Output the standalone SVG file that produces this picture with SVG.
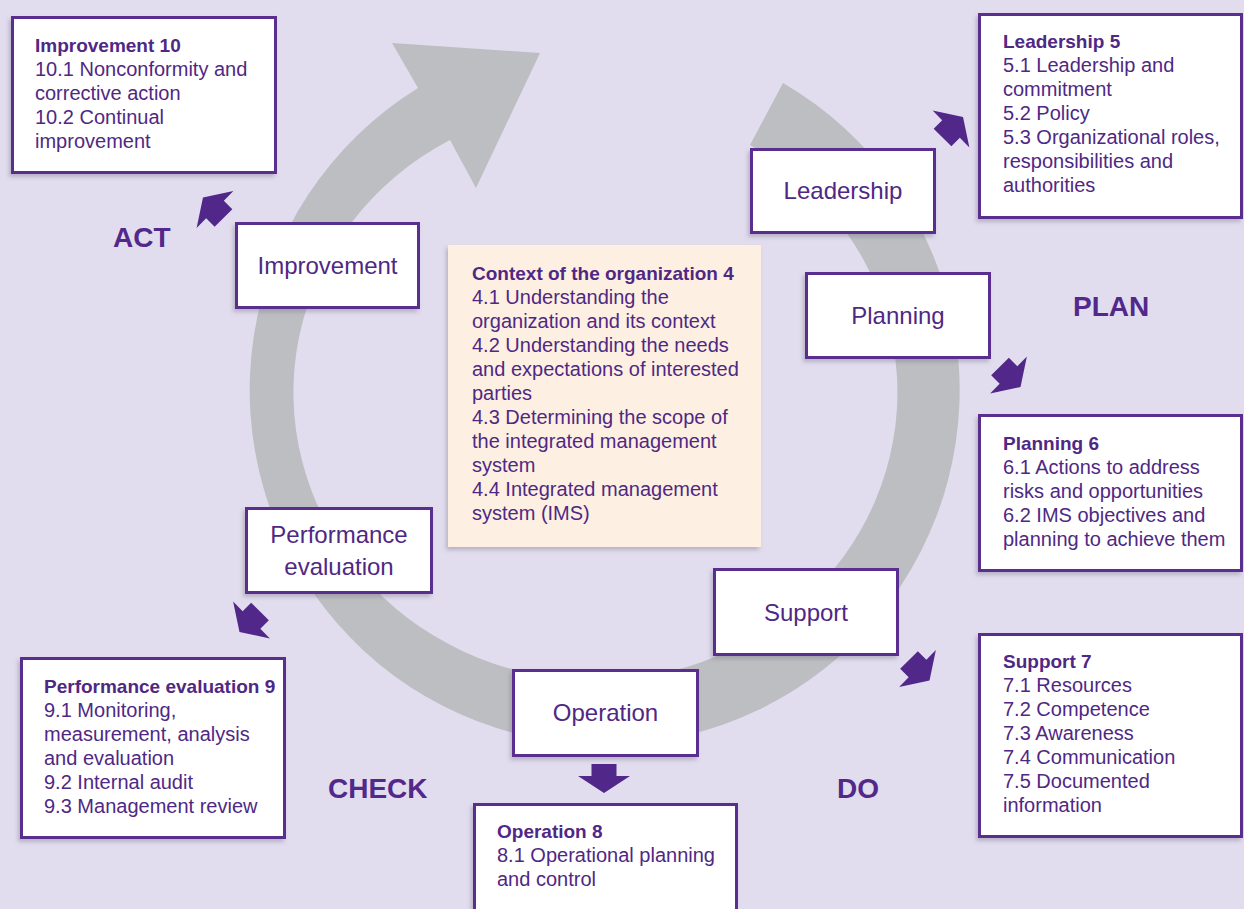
<svg xmlns="http://www.w3.org/2000/svg" xmlns:xlink="http://www.w3.org/1999/xlink" width="1244" height="909" viewBox="0 0 1244 909">
<defs>
<filter id="sh" x="-10%" y="-10%" width="120%" height="125%">
<feDropShadow dx="-2" dy="3" stdDeviation="2.2" flood-color="#6b6478" flood-opacity="0.35"/>
</filter>
<path id="blk" d="M17,0 L0,-26 L0,-12.5 L-12,-12.5 L-12,12.5 L0,12.5 L0,26 Z"/>
<style>
.t{font-family:"Liberation Sans",Arial,sans-serif;font-size:20px;fill:#4f2884}
.b{font-weight:bold;font-size:19px}
.n{font-size:24px;text-anchor:middle}
.p{font-family:"Liberation Sans",Arial,sans-serif;font-size:28px;font-weight:bold;fill:#52288a}
.box{fill:#ffffff;stroke:#5a2d8f;stroke-width:3;filter:url(#sh)}
.ctx{fill:#fdf0e2;filter:url(#sh)}
.arr{fill:#52278a}
</style>
</defs>
<rect x="0" y="0" width="1244" height="909" fill="#e1ddee"/>
<g id="cycle">
<path d="M 783 83 A 355 355 0 1 1 418 88 L 392 43 L 540 53 L 476 188 L 450 140 A 302 288 0 1 0 750 145 Z" fill="#bdbec2"/>
</g>
<g id="connectors">
<use xlink:href="#blk" class="arr" transform="translate(215,209.5) rotate(-135)"/>
<use xlink:href="#blk" class="arr" transform="translate(951,129) rotate(-45)"/>
<use xlink:href="#blk" class="arr" transform="translate(1008.5,375) rotate(45)"/>
<use xlink:href="#blk" class="arr" transform="translate(917.5,668.5) rotate(45)"/>
<use xlink:href="#blk" class="arr" transform="translate(604,776) rotate(90)"/>
<use xlink:href="#blk" class="arr" transform="translate(251.5,620) rotate(135)"/>
</g>
<g id="context">
<rect class="ctx" x="448" y="245" width="313" height="302"/>
<text class="t b" x="472" y="280">Context of the organization 4</text>
<text class="t" x="472" y="304">4.1 Understanding the</text>
<text class="t" x="472" y="328">organization and its context</text>
<text class="t" x="472" y="352">4.2 Understanding the needs</text>
<text class="t" x="472" y="376">and expectations of interested</text>
<text class="t" x="472" y="400">parties</text>
<text class="t" x="472" y="424">4.3 Determining the scope of</text>
<text class="t" x="472" y="448">the integrated management</text>
<text class="t" x="472" y="472">system</text>
<text class="t" x="472" y="496">4.4 Integrated management</text>
<text class="t" x="472" y="520">system (IMS)</text>
</g>
<g id="improvement10">
<rect class="box" x="12.5" y="17.5" width="263" height="155"/>
<text class="t b" x="35" y="52">Improvement 10</text>
<text class="t" x="35" y="76">10.1 Nonconformity and</text>
<text class="t" x="35" y="100">corrective action</text>
<text class="t" x="35" y="124">10.2 Continual</text>
<text class="t" x="35" y="148">improvement</text>
</g>
<g id="leadership5">
<rect class="box" x="979.5" y="14.5" width="262" height="203"/>
<text class="t b" x="1003" y="48">Leadership 5</text>
<text class="t" x="1003" y="72">5.1 Leadership and</text>
<text class="t" x="1003" y="96">commitment</text>
<text class="t" x="1003" y="120">5.2 Policy</text>
<text class="t" x="1003" y="144">5.3 Organizational roles,</text>
<text class="t" x="1003" y="168">responsibilities and</text>
<text class="t" x="1003" y="192">authorities</text>
</g>
<g id="planning6">
<rect class="box" x="979.5" y="415.5" width="262" height="155"/>
<text class="t b" x="1003" y="450">Planning 6</text>
<text class="t" x="1003" y="474">6.1 Actions to address</text>
<text class="t" x="1003" y="498">risks and opportunities</text>
<text class="t" x="1003" y="522">6.2 IMS objectives and</text>
<text class="t" x="1003" y="546">planning to achieve them</text>
</g>
<g id="support7">
<rect class="box" x="979.5" y="634.5" width="262" height="202"/>
<text class="t b" x="1003" y="668">Support 7</text>
<text class="t" x="1003" y="692">7.1 Resources</text>
<text class="t" x="1003" y="716">7.2 Competence</text>
<text class="t" x="1003" y="740">7.3 Awareness</text>
<text class="t" x="1003" y="764">7.4 Communication</text>
<text class="t" x="1003" y="788">7.5 Documented</text>
<text class="t" x="1003" y="812">information</text>
</g>
<g id="operation8">
<rect class="box" x="474.5" y="804.5" width="262" height="120"/>
<text class="t b" x="497" y="838">Operation 8</text>
<text class="t" x="497" y="862">8.1 Operational planning</text>
<text class="t" x="497" y="886">and control</text>
</g>
<g id="performance9">
<rect class="box" x="21.5" y="658.5" width="263" height="179"/>
<text class="t b" x="44" y="693">Performance evaluation 9</text>
<text class="t" x="44" y="717">9.1 Monitoring,</text>
<text class="t" x="44" y="741">measurement, analysis</text>
<text class="t" x="44" y="765">and evaluation</text>
<text class="t" x="44" y="789">9.2 Internal audit</text>
<text class="t" x="44" y="813">9.3 Management review</text>
</g>
<g id="node-improvement">
<rect class="box" x="236.5" y="223.5" width="182" height="84"/>
<text class="t n" x="327.5" y="274">Improvement</text>
</g>
<g id="node-leadership">
<rect class="box" x="751.5" y="149.5" width="183" height="83"/>
<text class="t n" x="843" y="199">Leadership</text>
</g>
<g id="node-planning">
<rect class="box" x="806.5" y="273.5" width="183" height="84"/>
<text class="t n" x="898" y="324">Planning</text>
</g>
<g id="node-performance">
<rect class="box" x="246.5" y="508.5" width="185" height="84"/>
<text class="t n" x="339" y="543">Performance</text>
<text class="t n" x="339" y="575">evaluation</text>
</g>
<g id="node-support">
<rect class="box" x="714.5" y="569.5" width="183" height="85"/>
<text class="t n" x="806" y="621">Support</text>
</g>
<g id="node-operation">
<rect class="box" x="513.5" y="670.5" width="184" height="85"/>
<text class="t n" x="605.5" y="721">Operation</text>
</g>
<g id="phases">
<text class="p" x="113" y="247">ACT</text>
<text class="p" x="1073" y="316">PLAN</text>
<text class="p" x="328" y="798">CHECK</text>
<text class="p" x="837" y="798">DO</text>
</g>
</svg>
